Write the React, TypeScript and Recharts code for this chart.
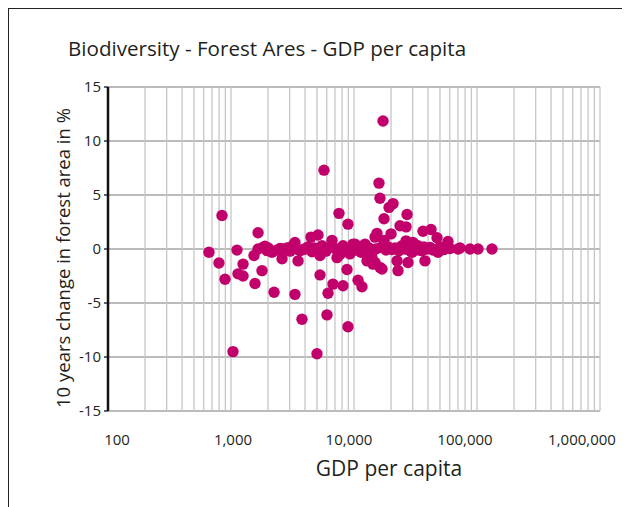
import React from 'react'
import { ScatterChart, Scatter, XAxis, YAxis, CartesianGrid, ReferenceLine } from 'recharts'

// GDP per capita (x, log scale) and 10-year forest area change in % (y)
const gdp = [
  662, 798, 845, 894, 1038, 1119, 1140, 1253, 1253, 1538, 1567, 1660, 1660, 1787, 1820, 1888,
  1963, 2010, 2153, 2239, 2366, 2500, 2600, 2600, 2748, 2853, 3020, 3134, 3311, 3311, 3400, 3508,
  3640, 3777, 3846, 3999, 4225, 4467, 4558, 4730, 5000, 5098, 5292, 5292, 5495, 5702, 5702, 5919,
  6030, 6150, 6267, 6627, 6745, 7010, 7278, 7551, 7690, 7839, 8140, 8140, 8450, 8770, 8933, 8933,
  9268, 9635, 9817, 10190, 10380, 10790, 11190, 11400, 11610, 12050, 12280, 12760, 13000, 13250, 13750, 14000,
  14260, 14820, 14820, 15100, 15380, 15960, 16260, 16260, 16600, 16900, 17220, 17540, 17540, 18200, 18900, 19270,
  20000, 20370, 20770, 21550, 22380, 22800, 23220, 23660, 24110, 24550, 26000, 26500, 26500, 26990, 27490, 28000,
  28520, 29650, 30190, 31920, 33110, 33750, 35720, 36390, 37070, 37760, 39200, 41500, 42280, 43850, 47310, 48200,
  50000, 51900, 53950, 58100, 60300, 70150, 72800, 87700, 101900, 132400,
]
const forestChange = [
  -0.3, -1.3, 3.1, -2.8, -9.5, -0.1, -2.3, -2.5, -1.4, -0.6, -3.2, 1.5, 0.0, -2.0, 0.15, 0.25,
  -0.15, 0.1, -0.3, -4.0, -0.1, 0.05, 0.0, -0.9, 0.0, 0.1, -0.2, 0.25, 0.6, -4.2, 0.0, -1.1,
  -0.15, -6.5, -0.05, 0.0, 0.2, 1.1, -0.25, 0.1, -9.7, 1.3, -0.6, -2.4, 0.3, 7.3, -0.1, -0.2,
  -6.1, -4.1, 0.15, 0.8, -3.25, 0.05, -0.8, 3.3, -0.5, -0.1, 0.3, -3.4, 0.1, -1.9, 2.3, -7.2,
  -0.45, -0.2, 0.45, 0.45, 0.05, -2.9, 0.15, -0.3, -3.5, -0.05, 0.45, -1.1, -0.2, 0.1, -0.55, -0.8,
  -1.4, 1.1, -1.25, 0.0, 1.45, 6.1, 4.7, -1.7, 0.15, -1.85, 11.85, 2.8, 0.8, -0.1, 0.2, 3.85,
  1.4, -0.05, 4.2, 0.1, -1.1, -2.0, -0.15, 2.15, 0.2, 0.3, 0.0, 2.05, 0.75, 3.2, -1.25, 0.25,
  -0.15, -0.3, 0.6, 0.1, 0.3, -0.1, -0.15, 1.65, 0.2, -1.1, 0.0, 0.15, 1.8, -0.1, 1.05, -0.3,
  0.2, 0.15, -0.05, 0.7, 0.05, 0.0, 0.1, 0.0, 0.0, 0.0,
]

const xTicks = [100, 1000, 10000, 100000, 1000000]
const xGridLines = [
  200, 300, 400, 500, 600, 700, 800, 900,
  1000, 2000, 3000, 4000, 5000, 6000, 7000, 8000, 9000,
  10000, 20000, 30000, 40000, 50000, 60000, 70000, 80000, 90000,
  100000, 200000, 300000, 400000, 500000, 600000, 700000, 800000, 900000, 1000000,
]
const yTicks = [-15, -10, -5, 0, 5, 10, 15]

const points = gdp.map((g, i) => ({ gdp: g, change: forestChange[i] }))

const FONT = '"Open Sans", "Noto Sans", sans-serif'
const TEXT = '#231f20'
const DOT = '#c2006b'

// the original's tick labels sit a little inside the decade lines
const labelShift = [9, 2, -5, -12, -18]

const Dot = (props: any) => {
  const { cx, cy } = props
  if (cx == null || cy == null) return null
  return <circle cx={cx} cy={cy} r={5.7} fill={DOT} />
}

const XTick = (props: any) => {
  const { x, y, payload, index } = props
  return (
    <text x={x + (labelShift[index] ?? 0)} y={y} dy="0.71em" textAnchor="middle"
      fill={TEXT} fontSize={15} fontFamily={FONT}>
      {Number(payload.value).toLocaleString('en-US')}
    </text>
  )
}

export default function App() {
  return (
    <div style={{
      position: 'relative', width: 622, height: 499, boxSizing: 'border-box',
      borderTop: '1px solid #222', borderLeft: '1px solid #222', background: '#fff',
      fontFamily: FONT, color: TEXT,
    }}>
      <div style={{ position: 'absolute', left: 59, top: 25, fontSize: 20.6, whiteSpace: 'nowrap' }}>
        Biodiversity - Forest Ares - GDP per capita
      </div>
      <div style={{
        position: 'absolute', left: 53, top: 249, fontSize: 18.5, whiteSpace: 'nowrap',
        transform: 'translate(-50%, -50%) rotate(-90deg)',
      }}>
        10 years change in forest area in %
      </div>
      <div style={{
        position: 'absolute', left: 380, top: 459, fontSize: 21, whiteSpace: 'nowrap',
        transform: 'translate(-50%, -50%)',
      }}>
        GDP per capita
      </div>
      <div style={{ position: 'absolute', left: -1, top: -1 }}>
        <ScatterChart width={622} height={499} margin={{ top: 79, right: 30, bottom: 56, left: 0 }}>
          <CartesianGrid vertical={false} stroke="#a4a4a4" strokeWidth={1.4} />
          {xGridLines.map(v => (
            <ReferenceLine key={v} x={v} stroke="#c6c6c6" strokeWidth={1.3} />
          ))}
          <XAxis
            type="number" dataKey="gdp" scale="log" domain={[100, 1000000]} allowDataOverflow
            ticks={xTicks} axisLine={false} tickLine={false} tickSize={0} tickMargin={23} height={40}
            tick={<XTick />} interval={0}
          />
          <YAxis
            type="number" dataKey="change" domain={[-15, 15]} ticks={yTicks} width={100}
            axisLine={{ stroke: '#111', strokeWidth: 2.5 }} tickLine={{ stroke: '#111', strokeWidth: 1.3 }}
            tickSize={4} tickMargin={3} interval={0}
            tick={{ fill: TEXT, fontSize: 15, fontFamily: FONT }}
          />
          <Scatter data={points} shape={<Dot />} isAnimationActive={false} />
        </ScatterChart>
      </div>
    </div>
  )
}
